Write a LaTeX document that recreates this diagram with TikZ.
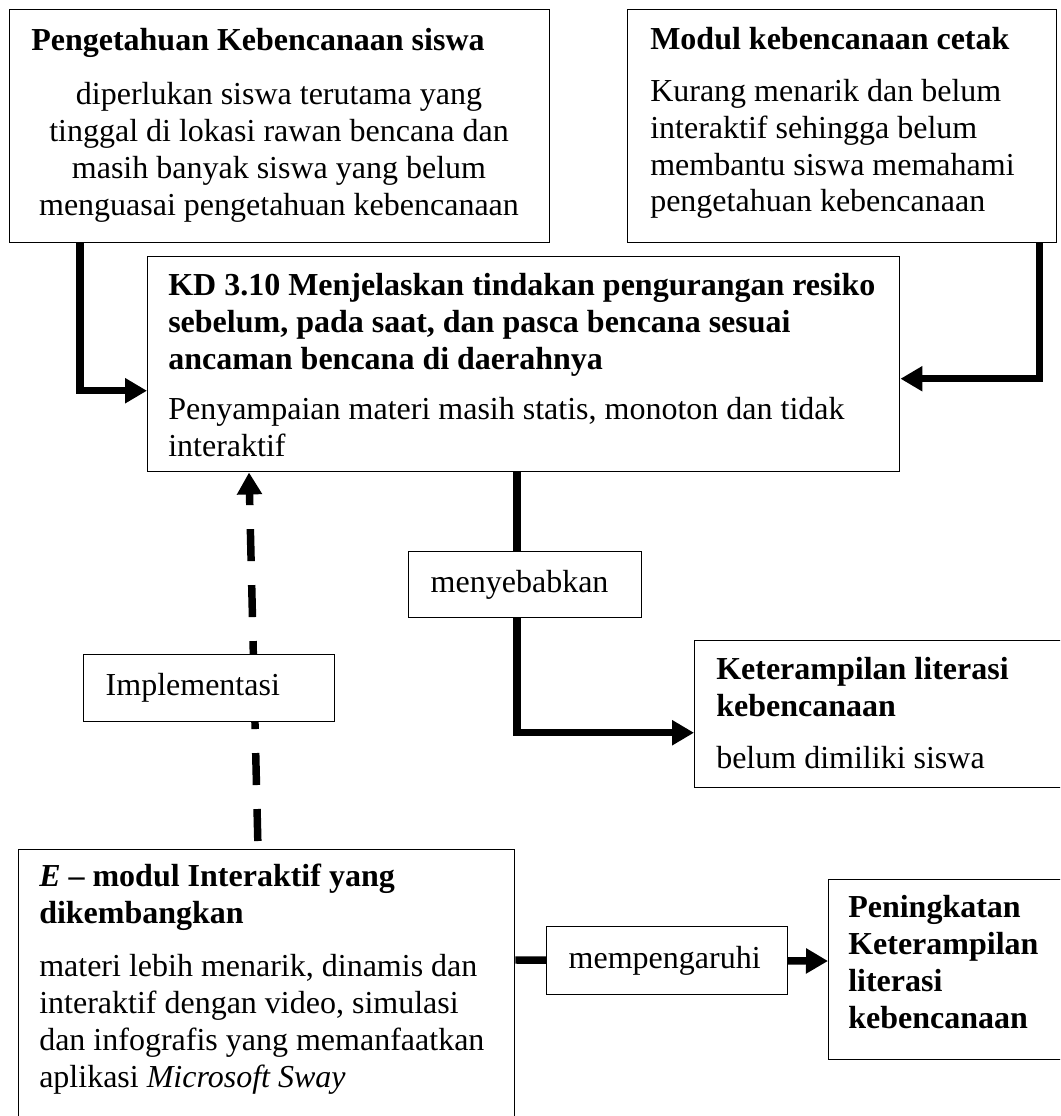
\documentclass[tikz,border=0pt]{standalone}
\usepackage{fontspec}
\setmainfont{Liberation Serif}
\usetikzlibrary{arrows.meta, calc}

\begin{document}
\begin{tikzpicture}[x=0.75pt, y=-0.75pt, font=\fontsize{24pt}{27.6pt}\selectfont,
    box/.style={draw, line width=1.1pt, rectangle, anchor=north west, inner sep=0pt},
    lbl/.style={draw, line width=1.1pt, fill=white, rectangle, anchor=north west, inner ysep=0pt, inner xsep=16.5pt, align=left},
    txt/.style={anchor=base west, inner sep=0pt, align=left},
    flow/.style={line width=5.6pt, -{Triangle[length=16.5pt, width=18pt]}},
    dflow/.style={flow, dash pattern=on 24pt off 18pt, dash phase=36pt}]
    \clip (0,0) rectangle (1060,1116);

    % Top: the two starting conditions
    \node[box, minimum width=405pt, minimum height=174.75pt] (know) at (9,9) {};
    \node[txt] (knowT) at (31,51) {\textbf{Pengetahuan Kebencanaan siswa}};
    \node[txt, anchor=base, align=center] (knowB) at (279,215) {diperlukan siswa terutama yang\\tinggal di lokasi rawan bencana dan\\masih banyak siswa yang belum\\menguasai pengetahuan kebencanaan};

    \node[box, minimum width=321.75pt, minimum height=174.75pt] (print) at (627,9) {};
    \node[txt] (printT) at (650,50) {\textbf{Modul kebencanaan cetak}};
    \node[txt] (printB) at (650,212) {Kurang menarik dan belum\\interaktif sehingga belum\\membantu siswa memahami\\pengetahuan kebencanaan};

    % Middle: the competence and its effect
    \node[box, minimum width=564pt, minimum height=161.25pt] (kd) at (147,256) {};
    \node[txt] (kdT) at (168,369) {\textbf{KD 3.10 Menjelaskan tindakan pengurangan resiko}\\\textbf{sebelum, pada saat, dan pasca bencana sesuai}\\\textbf{ancaman bencana di daerahnya}};
    \node[txt] (kdB) at (168,456) {Penyampaian materi masih statis, monoton dan tidak\\interaktif};

    \node[box, minimum width=300pt, minimum height=110.25pt] (skill) at (694,640) {};
    \node[txt] (skillT) at (716,716) {\textbf{Keterampilan literasi}\\\textbf{kebencanaan}};
    \node[txt] (skillB) at (716,768) {belum dimiliki siswa};

    % Bottom: the developed e-module and its outcome
    \node[box, minimum width=372pt, minimum height=225pt] (emod) at (18,849) {};
    \node[txt] (emodT) at (39,923) {\textbf{\textit{E} -- modul Interaktif yang}\\\textbf{dikembangkan}};
    \node[txt] (emodB) at (39,1087) {materi lebih menarik, dinamis dan\\interaktif dengan video, simulasi\\dan infografis yang memanfaatkan\\aplikasi \textit{Microsoft Sway}};

    \node[box, minimum width=195pt, minimum height=135pt] (gain) at (828,879) {};
    \node[txt] (gainT) at (848,1028) {\textbf{Peningkatan}\\\textbf{Keterampilan}\\\textbf{literasi}\\\textbf{kebencanaan}};

    % Connectors
    \draw[flow] ($(know.south west)+(71,0)$) |- ($(kd.west)+(0,26.5)$);
    \draw[flow] ($(print.south east)+(-18,0)$) |- ($(kd.east)+(0,14.5)$);
    \draw[flow] ($(kd.south west)+(370,0)$) |- ($(skill.west)+(0,18.5)$);
    \draw[dflow] ($(emod.north west)+(240,0)$) -- ($(kd.south west)+(102,0)$);
    \draw[flow] ($(emod.north east)+(0,111)$) -- ($(gain.north west)+(0,82)$);

    % Labels on the connectors
    \node[lbl, text width=141.75pt, minimum height=49.5pt] (cause) at (408,551) {menyebabkan};
    \node[lbl, text width=155.25pt, minimum height=50.25pt] (impl) at (83,654) {Implementasi};
    \node[lbl, text width=147.75pt, minimum height=51pt] (infl) at (546,926) {mempengaruhi};
\end{tikzpicture}
\end{document}
